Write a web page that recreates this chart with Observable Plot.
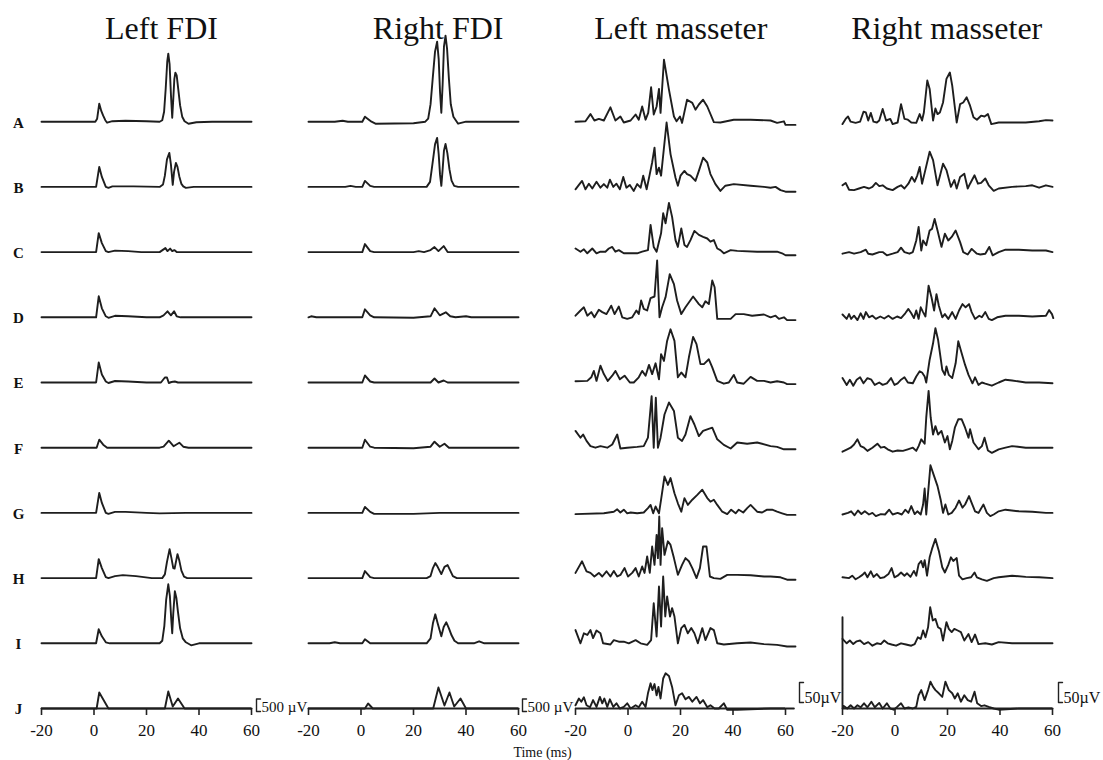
<!DOCTYPE html>
<html><head><meta charset="utf-8">
<script src="https://cdn.jsdelivr.net/npm/d3@7"></script>
<script src="https://cdn.jsdelivr.net/npm/@observablehq/plot@0.6"></script>
<style>html,body{margin:0;padding:0;background:#fff;}</style>
</head><body><div id="chart"></div>
<script>
// ---------- categories & labels ----------
const muscles = ["Left FDI", "Right FDI", "Left masseter", "Right masseter"];
const conditions = ["A","B","C","D","E","F","G","H","I","J"];
const timeTicks = [-20, 0, 20, 40, 60];
const scaleBarValues = [500, 500, 50, 50];          // µV
const scaleBarLabels = ["500 µV", "500 µV", "50µV", "50µV"];
const axisTitle = "Time (ms)";

// ---------- traces: [time (ms), amplitude (µV)] ----------
const lfdiA = [[-20,0],[0.5,0],[1.2,120],[2,720],[2.8,420],[3.5,240],[4.3,60],[5,-40],[7,20],[12,40],[20,20],[25,0],[26,60],[26.7,400],[27.3,1300],[27.9,2400],[28.3,2720],[28.8,2300],[29.3,1100],[29.8,160],[30.2,900],[30.6,1700],[31,1960],[31.5,1850],[32.1,1300],[32.8,650],[33.6,200],[34.5,20],[36,-80],[39,-20],[45,0],[60,0]];
const lfdiB = [[-20,0],[0.8,0],[2,800],[3,400],[4.5,0],[5.5,-40],[7,20],[15,20],[25,0],[26.3,100],[27,450],[27.8,1100],[28.7,1360],[29.3,900],[30,80],[30.5,600],[31.2,960],[31.8,800],[32.5,420],[33.3,120],[34,20],[35,-40],[38,0],[60,0]];
const lfdiC = [[-20,0],[0.8,0],[1.8,760],[3,360],[4.5,40],[5.5,0],[8,60],[13,40],[18,0],[25,0],[27.2,160],[28,40],[29,140],[29.8,40],[30.6,80],[31.5,0],[60,0]];
const lfdiD = [[-20,0],[0.8,0],[1.8,840],[3,360],[4.5,40],[5.5,-20],[8,60],[13,40],[20,0],[25,0],[26.5,80],[28,240],[29.3,80],[30.5,240],[31.5,40],[33,0],[60,0]];
const lfdiE = [[-20,0],[0.8,0],[1.8,800],[3,320],[4.5,40],[5.5,-20],[8,60],[13,40],[20,0],[25.5,0],[27,200],[27.8,200],[28.5,-20],[29.5,20],[30.8,40],[32,0],[60,0]];
const lfdiF = [[-20,0],[1,0],[2,320],[3.5,120],[5,0],[25,0],[26.5,40],[28.5,280],[30.3,60],[32.5,200],[34,40],[36,0],[60,0]];
const lfdiG = [[-20,0],[0.8,0],[2,800],[3,400],[4.5,0],[5.5,-40],[8,40],[12,40],[20,0],[25,-20],[35,0],[60,0]];
const lfdiH = [[-20,0],[0.8,0],[1.8,760],[3,400],[4.5,40],[5.5,0],[8,80],[11,120],[16,80],[22,0],[26,0],[27,150],[27.8,650],[28.8,1160],[29.5,800],[30.2,400],[30.7,380],[31.8,960],[32.5,700],[33.3,300],[34.3,60],[35.5,0],[60,0]];
const lfdiI = [[-20,0],[0.8,0],[1.8,560],[3,280],[4.5,40],[6,0],[25,0],[26,100],[26.8,700],[27.5,1750],[28.3,2360],[28.9,1900],[29.4,1000],[29.8,400],[30.2,1200],[30.8,2080],[31.4,1800],[32,1250],[32.8,600],[33.8,200],[35,40],[37,-80],[40,0],[60,0]];
const lfdiJ = [[-20,0],[1,0],[2,640],[5.5,0],[27,0],[28.3,680],[30,80],[32,400],[34.5,0],[60,0]];

const rfdiA = [[-20,0],[-10,0],[-7,40],[-5,0],[0.5,0],[1.5,200],[4,0],[5.5,-80],[20,-60],[24.5,0],[25.6,120],[26.5,700],[27.3,1700],[28.2,2800],[29,3200],[29.6,2500],[30.1,1200],[30.6,360],[31.1,1500],[31.6,3000],[32.2,3440],[32.8,2900],[33.5,1700],[34.2,700],[35.2,200],[37,-80],[40,0],[60,0]];
const rfdiB = [[-20,0],[-6,0],[-4,40],[-2,0],[0.5,0],[1.5,240],[3.5,40],[5,0],[25,0],[26.3,200],[27.2,900],[28.2,1700],[29,1960],[29.6,1300],[30.1,500],[30.6,40],[31.1,700],[31.6,1450],[32.2,1720],[32.9,1350],[33.7,700],[34.5,250],[35.5,40],[37,0],[60,0]];
const rfdiC = [[-20,0],[0.5,0],[1.5,320],[3.5,40],[5,0],[20,0],[22,40],[24,0],[26.5,80],[28,200],[29.5,40],[31.5,240],[33,0],[60,0]];
const rfdiD = [[-20,0],[-19,40],[-17,0],[0.5,0],[1.5,320],[3.5,80],[5,0],[20,-20],[26.5,40],[28,360],[30,80],[32.3,200],[34,40],[36,0],[40,40],[42,0],[60,0]];
const rfdiE = [[-20,0],[0.5,0],[1.5,280],[3.5,40],[5,0],[26.5,0],[28,160],[29.5,0],[31.5,80],[33,0],[60,0]];
const rfdiF = [[-20,0],[0.5,0],[1.5,320],[3.5,40],[5,0],[20,-20],[26.5,40],[28,240],[30,40],[31.8,160],[33.5,0],[60,0]];
const rfdiG = [[-20,0],[0.5,0],[1.5,240],[3.5,40],[5,-40],[20,-40],[30,0],[60,0]];
const rfdiH = [[-20,0],[0.5,0],[1.5,280],[3.5,40],[5,0],[25,0],[26.5,80],[27.4,400],[28.3,600],[29.2,450],[30.6,160],[31.8,450],[33,520],[34,300],[35,80],[36.5,0],[60,0]];
const rfdiI = [[-20,0],[-12,0],[-10,40],[-8,0],[0.5,0],[1.5,160],[3.5,0],[25,0],[26.5,200],[27.4,800],[28.3,1160],[29.2,800],[30.6,280],[31.5,650],[32.5,840],[33.5,600],[34.5,320],[35.6,100],[37,0],[43,0],[45,80],[47,0],[60,0]];
const rfdiJ = [[-20,0],[1.5,0],[2.7,200],[4.5,0],[27.5,0],[29.5,840],[31.8,120],[33.7,640],[35.5,80],[37.9,400],[40,0],[60,0]];

const lmasA = [[-20,0],[-16.2,1],[-14.3,19],[-12.8,3],[-11.1,7],[-9.2,3],[-6.7,36],[-4.8,3],[-2.9,13],[-1.6,-2],[1,3],[2.9,18],[4.1,5],[5.4,38],[6.7,5],[7.7,22],[8.8,86],[9.8,18],[10.9,38],[11.8,82],[12.4,22],[13.7,155],[15.6,80],[17.5,13],[18.5,1],[19.8,13],[20.6,-3],[22.5,55],[24.5,47],[25.7,30],[27,43],[28.6,55],[30.2,38],[32.7,-1],[35.2,-2],[40.3,5],[46.7,5],[54.3,3],[56.8,-3],[59.4,1],[60,-8],[63.8,-8]];
const lmasB = [[-20,-6],[-18.7,5],[-17.5,15],[-16.2,-6],[-14.9,8],[-13.6,-4],[-12,13],[-10.5,-2],[-9.2,7],[-7.9,-2],[-6.9,18],[-5.6,0],[-4.4,8],[-3.1,-6],[-1.8,25],[-0.6,-2],[0.7,5],[2.2,-10],[3.5,7],[4.8,-2],[5.8,28],[7.1,-6],[8.3,32],[9.2,61],[10.1,98],[10.9,32],[11.8,48],[12.6,28],[14.7,161],[16.2,82],[18.1,23],[19,3],[20,28],[21.5,40],[22.5,32],[23.8,28],[25.7,15],[27,40],[28.6,73],[30.2,61],[31.4,32],[33.3,7],[35.2,-10],[37.1,3],[40.3,7],[46.7,3],[51.8,0],[54.3,-2],[56.2,0],[58.1,-8],[60,-12],[63.8,-12]];
const lmasC = [[-20,9],[-18.1,1],[-16.8,7],[-15.5,-3],[-13.6,9],[-12,-3],[-10.5,1],[-8.6,1],[-7.3,9],[-6,13],[-4.8,1],[-3.5,5],[-1.6,-3],[3.5,-3],[5.4,1],[7.6,5],[8.6,68],[9.8,13],[10.9,1],[11.8,26],[12.6,47],[13.4,97],[14.3,72],[15.6,123],[16.8,88],[18.1,30],[19,13],[20.3,59],[21.5,18],[22.5,13],[23.8,30],[25.3,53],[27,43],[28.6,38],[30.2,34],[31.4,26],[32.7,30],[34,9],[35.2,5],[36.5,-3],[39.1,5],[41.6,3],[49.2,1],[54.3,1],[56.8,1],[58.7,-3],[60,-8],[63.8,-8]];
const lmasD = [[-20,4],[-18.1,17],[-16.8,25],[-15.5,4],[-14,13],[-12.8,0],[-11.1,19],[-9.8,13],[-8.2,8],[-6.4,29],[-5.1,8],[-3.5,27],[-2.2,0],[-0.3,-4],[1.6,0],[3.2,17],[4.1,8],[5,42],[6,21],[7.3,17],[8.6,48],[10.1,52],[11.1,142],[12,0],[13,25],[14.3,50],[15.9,108],[17.5,83],[18.7,42],[20.3,8],[21.9,25],[24.8,52],[27,33],[28.3,25],[29.5,40],[30.8,33],[32.1,92],[33,75],[34,-4],[36.5,-4],[39.1,-4],[41,8],[44.1,8],[47.3,4],[51.8,7],[54.3,0],[56.2,4],[57.5,-4],[59.4,0],[60.6,-7],[63.8,-7]];
const lmasE = [[-20,3],[-15.5,4],[-14,13],[-13,29],[-12,4],[-10.5,42],[-9.2,21],[-7.7,4],[-6,17],[-4.8,29],[-3.1,8],[-1.3,17],[0.7,0],[2.2,0],[4.1,13],[5.4,29],[6.7,17],[8,44],[9.2,21],[10.5,48],[11.8,8],[12.6,71],[13.7,54],[14.9,104],[16.2,133],[17.7,104],[19,13],[20.3,25],[21.9,13],[23.2,63],[24.8,114],[26.1,96],[27.6,46],[28.9,46],[30.8,58],[32.1,38],[34,4],[36.5,-3],[38.4,0],[40.3,19],[41.6,0],[44.1,-3],[46.7,14],[49.2,4],[51.8,4],[54.3,0],[56.8,3],[59.4,0],[60.6,-4],[63.8,-4]];
const lmasF = [[-20,42],[-18.1,25],[-17.1,33],[-15.8,17],[-14.3,4],[-12.4,0],[-10.5,4],[-7.9,0],[-6,8],[-4.1,33],[-2.9,-2],[-0.3,0],[3.5,2],[6,4],[7.6,25],[9,129],[9.8,0],[10.6,125],[11.4,0],[12.4,25],[13.9,83],[15.6,113],[17.5,92],[19,25],[20.6,17],[21.9,33],[23.8,79],[25.3,58],[27,29],[28.6,42],[30.2,46],[32.1,50],[34,21],[36.5,7],[39.1,-2],[41.6,13],[45.4,10],[49.2,13],[54.3,4],[56.8,2],[59.4,-4],[63.8,-4]];
const lmasG = [[-20,-3],[-9.2,-1],[-5.4,3],[-4.1,9],[-2.9,1],[-1.6,8],[-0.3,-1],[1,1],[3.5,-1],[6,1],[7.6,12],[8.6,20],[9.6,-1],[10.5,16],[11.8,-1],[12.6,33],[13.9,91],[15.2,70],[16.2,87],[17.7,49],[19,24],[20.3,3],[21.5,37],[22.8,20],[24.5,33],[26.4,45],[28.3,58],[30.2,37],[31.4,28],[32.7,33],[34,20],[35.9,3],[37.8,-3],[39.3,8],[41,-1],[42.2,8],[43.9,1],[45.4,12],[46.7,20],[47.9,12],[49.2,3],[51.1,1],[53,8],[54.9,8],[56.8,3],[58.7,-1],[60.6,-5],[63.8,-5]];
const lmasH = [[-20,13],[-17.5,42],[-15.8,17],[-14.3,13],[-12.8,4],[-11.1,13],[-9.8,4],[-8.2,17],[-6.7,4],[-5.4,18],[-4.1,4],[-2.9,8],[-1.3,25],[0,4],[1.6,13],[2.9,25],[4.1,4],[5.4,29],[6.3,13],[7.3,54],[8.3,13],[9.2,79],[10.1,33],[10.9,108],[11.4,50],[11.9,154],[12.4,33],[13,125],[13.9,58],[15.2,92],[16.2,83],[17.5,50],[19,8],[20.6,33],[21.9,50],[23.2,42],[24.5,25],[26.1,0],[27.4,25],[28.6,79],[29.9,79],[31.2,4],[32.7,0],[35.2,-2],[37.8,8],[41.6,8],[46.7,7],[51.8,4],[54.3,4],[58.1,2],[60.6,-4],[63.8,-4]];
const lmasI = [[-20,33],[-18.1,0],[-16.8,25],[-15.5,21],[-14.3,33],[-13.3,13],[-12,32],[-10.5,25],[-9.5,0],[-6.7,-3],[-5.4,8],[-3.5,4],[-1.6,4],[0.3,0],[2.9,8],[4.8,0],[7.3,-4],[8.8,8],[9.8,100],[10.9,17],[11.8,142],[12.6,42],[13.4,167],[14.2,67],[14.9,117],[16,67],[16.8,88],[17.7,67],[19,0],[20.3,38],[21.5,46],[22.8,25],[24.1,38],[25.3,25],[26.6,0],[28.3,38],[29.5,8],[31.4,38],[32.7,33],[34,0],[36.5,-3],[41.6,0],[46.7,2],[51.8,-2],[56.8,-4],[60.6,-8],[63.8,-8]];
const lmasJ = [[-20,8],[-18.7,25],[-17.8,17],[-16.8,28],[-15.8,8],[-14.5,3],[-13.3,21],[-12,4],[-10.7,29],[-9.8,13],[-9,25],[-7.9,4],[-6.9,23],[-5.6,4],[-4.4,13],[-3.1,0],[-1.6,4],[-0.3,13],[1,0],[2.9,8],[4.1,3],[5.4,17],[6.7,4],[7.6,38],[8.6,63],[9.3,46],[10.1,61],[10.9,33],[11.6,54],[12.4,25],[13.4,75],[14.3,88],[15.6,81],[16.8,54],[18.1,8],[19.4,33],[20.6,38],[21.9,23],[23.2,29],[24.5,17],[26.1,29],[27.4,13],[28.6,21],[30.2,3],[31.4,8],[33,0],[34.6,0],[36.5,13],[37.8,-3],[41.6,-3],[54.3,0],[63.2,0]];

const rmasA = [[-20,-6],[-18.8,7],[-17.9,13],[-16.9,0],[-15,-3],[-13.3,0],[-12,25],[-11.1,23],[-10.2,3],[-9.2,22],[-8.2,0],[-6.9,-2],[-6,3],[-4.7,32],[-3.4,3],[-1.8,7],[-0.9,-6],[1,-2],[2.3,44],[3.6,7],[4.9,5],[6.2,-2],[8.1,-3],[9.4,19],[10.3,3],[11,23],[12.3,103],[13.2,82],[14.5,3],[15.4,33],[16.2,19],[17.1,23],[18.3,48],[19.6,107],[20.9,123],[21.8,90],[23.5,-2],[24.8,44],[26,48],[27.3,61],[28.6,40],[29.9,11],[31.2,5],[32.8,15],[34.1,13],[35.4,19],[36.7,-6],[39.5,-2],[44.6,-2],[49.8,-2],[54.9,1],[57.5,4],[60,3]];
const rmasB = [[-20,4],[-18.8,10],[-17.5,-7],[-15.6,-8],[-13.7,-4],[-11.8,0],[-9.9,-4],[-8.6,0],[-7.3,10],[-6,2],[-4.7,4],[-3.1,-4],[-0.9,-8],[1,0],[2.3,4],[3.6,-4],[5.1,8],[6.4,25],[7.5,13],[8.5,29],[9.4,50],[10.3,8],[11.3,35],[13.2,88],[14.5,67],[16.2,4],[18.3,58],[19.6,42],[21.3,0],[22.6,17],[23.5,-4],[24.8,25],[26.4,33],[27.7,-4],[28.6,8],[30.3,29],[31.6,8],[32.8,10],[34.4,21],[35.7,4],[37.6,-10],[39.5,-4],[44.6,0],[49.8,2],[52.3,4],[54.9,-2],[57.5,4],[60,0]];
const rmasC = [[-20,-4],[-17.5,0],[-15.6,-4],[-13.1,0],[-11.1,6],[-10.2,-4],[-8.6,-6],[-6,0],[-4.7,0],[-3.1,-8],[-0.9,-4],[1,0],[2.3,11],[3.6,0],[5.5,-4],[6.8,0],[8.1,29],[9,63],[10,4],[10.7,29],[11.9,17],[13.2,54],[14.1,58],[15.1,83],[16.2,54],[17.7,13],[19,46],[20.3,29],[21.6,38],[23.1,54],[24.8,25],[26,0],[27.7,-6],[29.2,8],[31.2,-4],[32.5,-6],[34.4,-4],[35.9,13],[37.2,-8],[39.5,0],[42.1,6],[47.2,6],[52.3,4],[57.5,4],[60,0]];
const rmasD = [[-20,7],[-18.4,-4],[-17.5,8],[-16.7,-4],[-15.6,4],[-14.3,-7],[-13.1,10],[-12,-4],[-11.1,13],[-9.9,0],[-8.6,4],[-7.3,-4],[-5.6,2],[-4.1,-3],[-2.5,4],[-0.9,-4],[0.8,2],[2.3,-2],[3.9,10],[5.1,21],[6.2,10],[7.2,-2],[8.1,17],[9,-4],[9.8,25],[10.7,13],[11.6,2],[12.8,79],[13.9,50],[14.9,17],[15.8,58],[16.7,29],[18,0],[19,8],[20.3,-4],[21.8,13],[23.1,-4],[24.4,17],[25.7,33],[26.9,25],[28.2,33],[29.2,13],[30.5,-4],[32.1,4],[33.1,0],[34.4,13],[35.7,-4],[36.9,-7],[38.9,0],[42.1,4],[47.2,4],[52.3,2],[57.5,4],[58.7,18],[59.8,8],[60.3,-2]];
const rmasE = [[-20,11],[-18.4,-6],[-17.2,7],[-15.9,-8],[-14.6,7],[-13.3,13],[-12,-2],[-10.5,11],[-9,7],[-7.7,-6],[-6,0],[-4.7,-6],[-3.1,-2],[-1.5,11],[-0.2,-6],[1,-2],[2.3,7],[3.6,13],[4.9,0],[6.8,-2],[8.1,15],[9.4,28],[10.3,25],[11.3,15],[11.9,0],[13.2,57],[14.5,98],[15.4,136],[16.4,107],[18,32],[19,19],[19.6,40],[20.5,19],[21.8,11],[23.1,48],[24.1,103],[25.4,73],[26.7,44],[28,19],[29.5,-2],[30.5,13],[31.8,-6],[33.1,0],[34.4,-3],[36.9,-8],[39.5,0],[42.1,7],[44.6,5],[49.8,0],[54.9,0],[60,-2]];
const rmasF = [[-20,-10],[-18.2,-4],[-16.9,0],[-15.6,8],[-14.3,21],[-13.1,4],[-11.8,0],[-10.5,-8],[-8.6,0],[-6.7,10],[-5.4,0],[-4.1,2],[-2.8,-4],[-0.9,-10],[1,-7],[3,-8],[4.9,-4],[6.8,0],[8.1,-8],[9,4],[10,21],[11.3,10],[11.9,75],[12.8,142],[13.6,75],[14.5,33],[15.4,54],[16.4,33],[17.7,42],[19,13],[20,29],[20.9,-4],[21.8,17],[22.8,50],[24.1,71],[25.4,71],[26.7,50],[28,25],[28.6,46],[29.9,13],[31.8,-4],[33.1,4],[34.1,25],[35.4,-7],[36.9,-13],[39.5,-4],[42.1,0],[44.6,4],[49.8,0],[54.9,0],[60,0]];
const rmasG = [[-20,-4],[-17.9,0],[-16.7,4],[-15.4,-6],[-14.1,6],[-12.8,-3],[-11.5,4],[-9.9,-4],[-8.6,0],[-7.3,-8],[-5.4,-3],[-3.8,-4],[-2.2,8],[-0.9,-4],[1,0],[2.6,-4],[3.9,8],[5.1,0],[6.2,17],[7.5,-3],[8.5,4],[9.8,-4],[10.7,21],[11.3,61],[11.9,-4],[13.5,119],[14.9,92],[16.2,67],[17.4,33],[18.3,0],[19.2,21],[20.3,-4],[21.6,0],[23.1,13],[24.4,31],[25.7,13],[26.7,21],[28.2,42],[29.2,25],[30.5,4],[31.8,0],[33.7,21],[35,0],[36.3,-8],[37.6,-4],[39.5,4],[42.1,8],[47.2,4],[52.3,3],[57.5,0],[60,0]];
const rmasH = [[-20,2],[-17.5,0],[-16.3,6],[-15,-3],[-13.7,2],[-12.4,8],[-11.5,14],[-10.5,2],[-9.2,17],[-8.2,3],[-6.9,10],[-5.6,0],[-4.1,2],[-2.5,10],[-1.3,25],[-0.2,2],[1,6],[2.3,14],[3.6,6],[4.6,12],[5.9,3],[7.2,18],[8.1,6],[9,35],[10,43],[10.7,27],[11.3,45],[12.2,6],[13.2,52],[14.1,73],[15.4,98],[16.7,68],[18,27],[19,14],[20.3,33],[21.3,52],[22.2,43],[23.5,50],[24.4,6],[25.7,-3],[27.3,0],[29,2],[30.3,14],[31.2,2],[33.1,-3],[35,-7],[37.6,0],[39.5,2],[44.6,6],[49.8,3],[54.9,2],[60,0]];
const rmasI = [[-20,11],[-18.4,0],[-17.2,7],[-15.9,-2],[-14.6,5],[-13.3,7],[-11.8,-2],[-10.2,3],[-8.6,-6],[-6.9,0],[-5.4,-2],[-4.1,7],[-2.8,0],[-1.3,-3],[0.4,-6],[2.3,0],[4.2,-3],[6.2,-6],[7.5,-2],[8.7,15],[9.8,11],[10.7,32],[11.6,15],[12.6,40],[13.4,90],[14.4,57],[15.4,61],[16.4,40],[17.4,36],[18.3,7],[19.6,53],[20.5,36],[21.6,28],[22.6,36],[23.9,32],[25.1,28],[26.4,7],[28,23],[29.2,3],[30.5,22],[31.8,-2],[34.4,0],[36.9,-3],[39.5,3],[44.6,0],[52.3,0],[60,0]];
const rmasJ = [[-20,228],[-20,0],[-19.5,6],[-18.2,0],[-16.9,8],[-15.6,0],[-14.3,8],[-13.1,3],[-11.8,13],[-10.5,3],[-9,17],[-7.7,3],[-6,14],[-4.7,0],[-3.1,13],[-1.8,0],[-0.5,-3],[0.8,4],[2.3,13],[3.6,0],[5.1,3],[6.8,0],[8.1,4],[9,33],[10,46],[11.3,21],[12.6,46],[13.5,67],[14.5,54],[15.4,46],[16.7,38],[18,29],[19.2,67],[20.5,46],[21.8,38],[22.8,25],[23.9,38],[25.1,17],[26.4,33],[27.7,21],[29,17],[30.3,42],[31.3,13],[32.8,6],[34.1,8],[35.7,4],[37.6,0],[39.5,-3],[47.2,0],[54.9,0],[60,0]];

// ---------- assemble table ----------
const traceSets = [
  [lfdiA,lfdiB,lfdiC,lfdiD,lfdiE,lfdiF,lfdiG,lfdiH,lfdiI,lfdiJ],
  [rfdiA,rfdiB,rfdiC,rfdiD,rfdiE,rfdiF,rfdiG,rfdiH,rfdiI,rfdiJ],
  [lmasA,lmasB,lmasC,lmasD,lmasE,lmasF,lmasG,lmasH,lmasI,lmasJ],
  [rmasA,rmasB,rmasC,rmasD,rmasE,rmasF,rmasG,rmasH,rmasI,rmasJ]
];
const gain = [40, 40, 2.5, 2.5];   // µV per vertical display unit
const rowStep = 65.2;              // vertical spacing between conditions
const rowBase = i => (conditions.length - 1 - i) * rowStep;

const rows = [];
muscles.forEach((m, mi) => traceSets[mi].forEach((arr, ci) => arr.forEach(([t, v]) =>
  rows.push({muscle: m, key: m + conditions[ci], t, v, y: rowBase(ci) + v / gain[mi]}))));

// scale bars ("[" brackets) placed just right of each panel
const pxPerMs = 210 / 80;
const barOffsetPx = [5, 4, 14, 6];
const barBottom = [-3, -3, 6, 6];
const bracketPts = [];
const barText = [];
muscles.forEach((m, i) => {
  const x0 = 60 + barOffsetPx[i] / pxPerMs, xs = x0 + 4 / pxPerMs;
  const y0 = barBottom[i], y1 = y0 + scaleBarValues[i] / gain[i];
  [[xs, y1], [x0, y1], [x0, y0], [xs, y0]].forEach(([x, y]) => bracketPts.push({muscle: m, x, y}));
  barText.push({muscle: m, label: scaleBarLabels[i], x: x0 + 5 / pxPerMs, y: y0 - 0.5});
});

const titleX = [25.7, 29.4, 20.1, 19.7];
const serif = "'Liberation Serif', 'Times New Roman', Times, serif";

const chart = Plot.plot({
  width: 1103, height: 760,
  marginTop: 0, marginRight: 51, marginBottom: 52, marginLeft: 40,
  style: {fontFamily: serif, background: "#fff", color: "#111"},
  x: {domain: [-20, 60], label: null},
  y: {domain: [0, 708], axis: null},
  fx: {domain: muscles, paddingInner: 0.214, paddingOuter: 0, axis: null, label: null},
  marks: [
    Plot.ruleY([0], {stroke: "#222", strokeWidth: 1.9}),
    Plot.axisX({ticks: timeTicks, tickSize: 7, tickPadding: 8, tickFormat: d => String(d), fontSize: 17, label: null, stroke: "#222", strokeWidth: 1.6}),
    Plot.line(rows, {x: "t", y: "y", z: "key", fx: "muscle", stroke: "#1e1e1e", strokeWidth: 1.9, strokeLinejoin: "round", strokeLinecap: "round"}),
    Plot.text(muscles.map((m, i) => ({muscle: m, x: titleX[i]})), {fx: "muscle", x: "x", y: 670, text: "muscle", fontSize: 32, lineAnchor: "bottom", fill: "#111"}),
    Plot.text(conditions.map((c, i) => ({muscle: "Left FDI", c, y: rowBase(i)})), {fx: "muscle", x: -20, y: "y", dx: -23, dy: 1, text: "c", fontSize: 15, fontWeight: "bold", fill: "#111"}),
    Plot.line(bracketPts, {x: "x", y: "y", z: "muscle", fx: "muscle", stroke: "#222", strokeWidth: 1.4}),
    Plot.text(barText.slice(0, 2), {fx: "muscle", x: "x", y: "y", text: "label", textAnchor: "start", lineAnchor: "bottom", fontSize: 15, fill: "#111"}),
    Plot.text(barText.slice(2), {fx: "muscle", x: "x", y: "y", text: "label", textAnchor: "start", lineAnchor: "bottom", fontSize: 16, fill: "#111"}),
    Plot.text([{muscle: "Right FDI", label: axisTitle}], {fx: "muscle", x: 60, y: -44, dx: 24, text: "label", fontSize: 14, fill: "#111"})
  ]
});
document.getElementById("chart").appendChild(chart);
</script>
</body></html>
